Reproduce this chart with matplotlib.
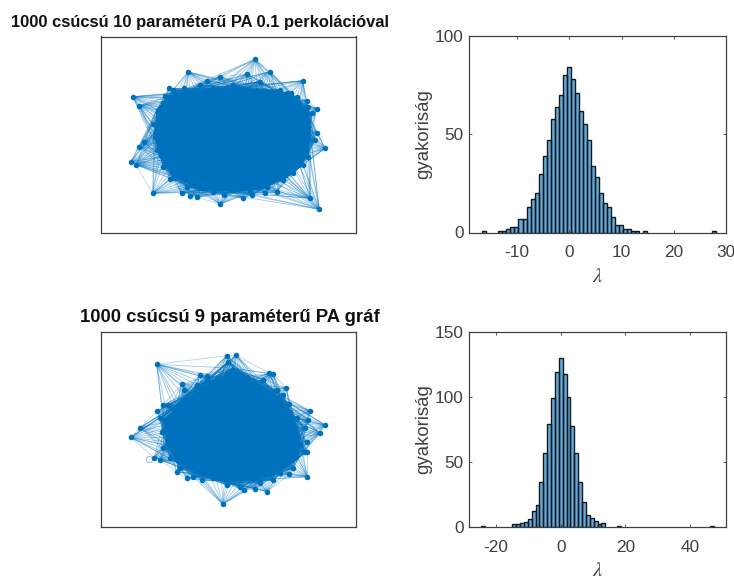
"""Two PA graphs with the eigenvalue histogram of each one."""

import numpy as np
import matplotlib
matplotlib.use("Agg")
import matplotlib.pyplot as plt

WIDTH, HEIGHT = 734, 578
BLUE = "#0072BD"
AXIS_GREY = "#404040"

plt.rcParams["font.family"] = ["Liberation Sans", "DejaVu Sans"]
plt.rcParams["mathtext.fontset"] = "stix"
plt.rcParams["axes.unicode_minus"] = False

title_top = "1000 csúcsú 10 paraméterű PA 0.1 perkolációval"
title_bottom = "1000 csúcsú 9 paraméterű PA gráf"
y_label = "gyakoriság"
x_label = r"$\lambda$"

# histogram counts, bin index is relative to the peak bin
top_bins = [-21, -17, -16, -15, -14, -13, -12, -11, -10, -9, -8, -7, -6, -5, -4, -3, -2, -1,
            0, 1, 2, 3, 4, 5, 6, 7, 8, 9, 10, 11, 12, 13, 14, 15, 16, 17, 19, 36]
top_counts = [1, 1, 1, 2, 3, 3, 7, 7, 13, 17, 20, 30, 39, 47, 58, 64, 70, 80,
              84, 78, 71, 62, 55, 47, 34, 28, 20, 15, 13, 8, 4, 4, 2, 2, 1, 1, 1, 1]
top_peak = -0.1
top_width = 0.77
top_xlim = (-19.2, 30.0)
top_ylim = (0, 100)
top_xticks = [-10, 0, 10, 20, 30]
top_yticks = [0, 50, 100]

bottom_bins = [-20, -12, -11, -10, -9, -8, -7, -6, -5, -4, -3, -2, -1,
               0, 1, 2, 3, 4, 5, 6, 7, 8, 9, 10, 11, 15, 39]
bottom_counts = [1, 2, 2, 3, 4, 6, 12, 17, 35, 57, 79, 99, 119,
                 130, 118, 100, 78, 57, 35, 19, 9, 7, 5, 2, 3, 1, 1]
bottom_peak = 0.0
bottom_width = 1.2
bottom_xlim = (-28.4, 51.2)
bottom_ylim = (0, 150)
bottom_xticks = [-20, 0, 20, 40]
bottom_yticks = [0, 50, 100, 150]

# graph layouts, in image pixels: outer nodes, nodes on the rim of the core, the core itself
top_nodes = [
    (132.7, 96.7), (139.3, 105.7), (153.3, 124), (139.3, 146.7), (144, 141.7), (130.7, 162),
    (136, 165), (152.7, 193.3), (170, 179.3), (181.7, 193.3), (190, 196), (197.3, 197.3),
    (220, 204), (224, 195), (242.7, 198.3), (251.7, 195), (265, 192.7), (276.7, 191.7),
    (310, 198.3), (319.3, 209.3), (302.7, 165), (325, 148.3), (316.7, 132.7), (308.3, 121.7),
    (316.7, 108.7), (306.7, 100.7), (302.7, 80.7), (290.7, 92.7), (270, 71.7), (255, 59.3),
    (247.3, 74), (220, 76.7), (207.3, 80.7), (188.3, 72), (184, 88.3), (169, 88.3), (165, 96),
]
top_rim = [
    (173.3, 90), (180, 95), (200, 85), (213.3, 88.3), (233.3, 85), (260, 81.7), (280, 90),
    (286.7, 93.3), (296.7, 96.7), (308.3, 106.7), (311.7, 113.3), (308.3, 126.7), (315, 140),
    (308.3, 156.7), (293.3, 173.3), (283.3, 180), (266.7, 186.7), (250, 190), (233.3, 190),
    (213.3, 191.7), (186.7, 186.7), (173.3, 178.3), (163.3, 166.7), (156.7, 150), (155, 136.7),
    (160, 116.7), (163.3, 103.3),
]
top_core = [
    (166.7, 96.7), (186.7, 91.7), (216.7, 90), (246.7, 88.3), (276.7, 91.7), (300, 101.7),
    (308.3, 113.3), (310, 133.3), (308.3, 153.3), (300, 166.7), (286.7, 176.7), (263.3, 188.3),
    (233.3, 191.7), (200, 190), (173.3, 176.7), (160, 156.7), (154, 133.3), (156.7, 110),
]
bottom_nodes = [
    (156.7, 364.3), (226.7, 355.7), (236, 355), (269.3, 373.3), (273.3, 374.3), (286, 387.7),
    (289.3, 404.3), (310, 411), (308.3, 420), (325, 425), (320, 433.3), (306.7, 441.7),
    (307.3, 451.7), (307.3, 476.7), (289.3, 474.3), (267.3, 491.7), (255, 489), (244, 490),
    (222.7, 504), (201.7, 480), (186.7, 478.3), (176.7, 471.7), (160, 460), (154.3, 457.7),
    (130.7, 437.3), (140, 427.7), (157.3, 411), (163.3, 405), (181.7, 384.3), (184, 390),
    (200, 375), (206.7, 375.7),
]
bottom_rim = [
    (206.7, 380), (216.7, 378.3), (228.3, 361.7), (233.3, 371.7), (246.7, 376.7), (263.3, 380),
    (276.7, 390), (283.3, 395), (290, 411.7), (296.7, 418.3), (305, 428.3), (300, 445),
    (305, 451.7), (293.3, 468.3), (280, 473.3), (273.3, 480), (260, 483.3), (240, 486.7),
    (226.7, 485), (213.3, 478.3), (193.3, 476.7), (180, 468.3), (170, 458.3), (163.3, 448.3),
    (161.7, 431.7), (160, 418.3), (168.3, 405), (183.3, 400), (196.7, 385),
]
bottom_core = [
    (193.3, 395), (216.7, 380), (233.3, 368.3), (260, 385), (280, 398.3), (293.3, 418.3),
    (300, 438.3), (298.3, 458.3), (280, 471.7), (256.7, 480), (226.7, 481.7), (200, 475),
    (176.7, 461.7), (166.7, 445), (163.3, 421.7), (176.7, 405),
]
bottom_loop = (149.3, 459)


def axes_px(fig, left, top, right, bottom):
    return fig.add_axes([left / WIDTH, 1 - bottom / HEIGHT,
                         (right - left) / WIDTH, (bottom - top) / HEIGHT])


def style_box(ax):
    for spine in ax.spines.values():
        spine.set_color(AXIS_GREY)
        spine.set_linewidth(0.9)


def draw_graph(ax, box, nodes, rim, core):
    left, top, right, bottom = box
    nodes = np.array(nodes)
    rim = np.array(rim)
    core = np.array(core)
    # each outer node sees the whole core, which gives the wide fans
    for i, (x, y) in enumerate(nodes):
        for cx, cy in core:
            ax.plot([x, cx], [y, cy], color=BLUE, lw=0.6, alpha=0.38, zorder=1)
        nx, ny = nodes[(i + 1) % len(nodes)]
        ax.plot([x, nx], [y, ny], color=BLUE, lw=0.6, alpha=0.3, zorder=1)
    for x, y in rim:
        for cx, cy in core:
            ax.plot([x, cx], [y, cy], color=BLUE, lw=0.7, alpha=0.6, zorder=1)
    ax.fill(core[:, 0], core[:, 1], color=BLUE, lw=0, zorder=2)
    ax.plot(nodes[:, 0], nodes[:, 1], "o", color=BLUE, ms=4.0, mew=0, zorder=3)
    ax.plot(rim[:, 0], rim[:, 1], "o", color=BLUE, ms=4.0, mew=0, zorder=3)
    ax.set_xlim(left, right)
    ax.set_ylim(bottom, top)
    ax.set_xticks([])
    ax.set_yticks([])
    style_box(ax)


def draw_hist(ax, bins, counts, peak, width, xlim, ylim, xticks, yticks):
    centres = peak + np.array(bins) * width
    ax.bar(centres, counts, width=width, color=BLUE, alpha=0.6, lw=0)
    ax.bar(centres, counts, width=width, fill=False, edgecolor="#101820", lw=1.0)
    ax.set_xlim(*xlim)
    ax.set_ylim(*ylim)
    ax.set_xticks(xticks)
    ax.set_yticks(yticks)
    ax.tick_params(direction="in", top=True, right=True, length=2.5, width=0.6,
                   color=AXIS_GREY, labelcolor=AXIS_GREY, labelsize=12.4)
    ax.tick_params(axis="x", pad=9)
    ax.tick_params(axis="y", pad=4)
    ax.set_xlabel(x_label, fontsize=15, color=AXIS_GREY, labelpad=5)
    ax.set_ylabel(y_label, fontsize=13.4, color=AXIS_GREY, labelpad=2)
    style_box(ax)


fig = plt.figure(figsize=(WIDTH / 100, HEIGHT / 100), dpi=100)

box_top = (100.5, 36.5, 355.5, 232.5)
box_bottom = (100.5, 332, 355.5, 527)

ax = axes_px(fig, *box_top)
draw_graph(ax, box_top, top_nodes, top_rim, top_core)

ax = axes_px(fig, *box_bottom)
draw_graph(ax, box_bottom, bottom_nodes, bottom_rim, bottom_core)
ax.plot(*bottom_loop, "o", mfc="none", mec=BLUE, mew=0.5, ms=4.5, alpha=0.6, zorder=1)

ax = axes_px(fig, 469, 36, 726, 232.5)
draw_hist(ax, top_bins, top_counts, top_peak, top_width, top_xlim, top_ylim, top_xticks, top_yticks)

ax = axes_px(fig, 469, 332, 726, 527)
draw_hist(ax, bottom_bins, bottom_counts, bottom_peak, bottom_width, bottom_xlim, bottom_ylim,
          bottom_xticks, bottom_yticks)

fig.text(200 / WIDTH, 1 - 23 / HEIGHT, title_top, ha="center", va="center",
         fontsize=11.9, fontweight="bold", color="#111111")
fig.text(230 / WIDTH, 1 - 318 / HEIGHT, title_bottom, ha="center", va="center",
         fontsize=13.3, fontweight="bold", color="#111111")

fig.savefig("out.png", dpi=100)
plt.close(fig)
